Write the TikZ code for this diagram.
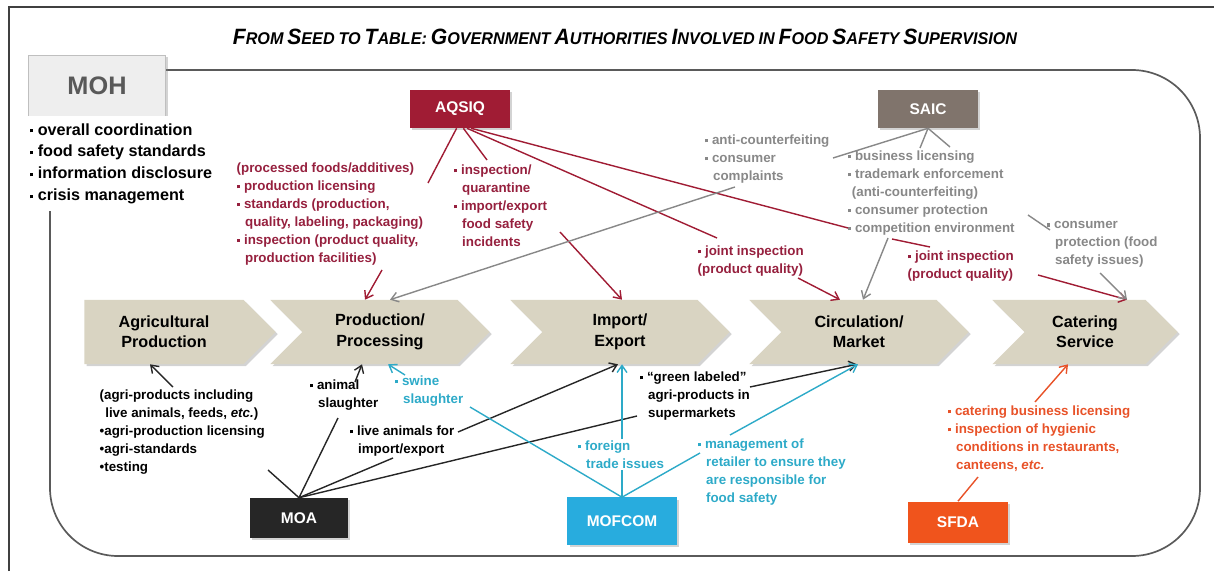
\documentclass[tikz,border=0pt]{standalone}
\usepackage{fontspec}
\setmainfont{Liberation Sans}
\usetikzlibrary{shapes.symbols,arrows.meta,shadows}

\definecolor{aqsiqred}{RGB}{160,28,52}
\definecolor{aqsiqtext}{RGB}{150,32,62}
\definecolor{saicbox}{RGB}{128,116,108}
\definecolor{saictext}{RGB}{136,136,136}
\definecolor{moabox}{RGB}{38,38,38}
\definecolor{mofbox}{RGB}{40,172,222}
\definecolor{moftext}{RGB}{45,170,200}
\definecolor{sfdabox}{RGB}{240,84,28}
\definecolor{sfdatext}{RGB}{232,82,40}
\definecolor{stagefill}{RGB}{217,212,194}
\definecolor{framegray}{RGB}{90,90,90}
\definecolor{mohfill}{RGB}{238,238,238}

\newcommand{\bul}{\raisebox{0.3ex}{\rule{2.6pt}{2.6pt}}\ }
\newcommand{\ind}{\hspace*{6pt}}
\newcommand{\tsc}[2]{{\fontsize{15}{15}\selectfont #1}{\fontsize{11.5}{15}\selectfont #2}}

\tikzset{
  softshadow/.style={drop shadow={opacity=0.35,shadow xshift=1.5pt,shadow yshift=-1.5pt}},
  agency/.style={minimum width=2.5cm, minimum height=0.95cm, text=white, font=\bfseries\fontsize{11}{13}\selectfont, softshadow},
  stage/.style={signal, signal to=east, signal from=west, signal pointer angle=90, fill=stagefill, minimum width=5.475cm, minimum height=1.6cm, align=center, font=\bfseries\fontsize{11.5}{14.5}\selectfont, softshadow},
  note/.style={anchor=north west, align=left, inner sep=1pt, font=\bfseries\fontsize{9.5}{12.8}\selectfont},
  link/.style={line width=1pt},
  feed/.style={link, -{Straight Barb[length=5pt,width=7pt]}}
}

\begin{document}
\begin{tikzpicture}[x=0.025cm, y=-0.025cm]
\useasboundingbox (0,0) rectangle (1214,571);
\draw[black!75, line width=0.8pt] (9,571) -- (9,7) -- (1214,7);
\draw[framegray, line width=1.2pt, rounded corners=1.7cm] (50,70) rectangle (1200,556);

\node (title) at (625,37) {\scalebox{1.0}[1.05]{\bfseries\itshape \tsc{F}{ROM} \tsc{S}{EED} \tsc{}{TO} \tsc{T}{ABLE:} \tsc{G}{OVERNMENT} \tsc{A}{UTHORITIES} \tsc{I}{NVOLVED} \tsc{}{IN} \tsc{F}{OOD} \tsc{S}{AFETY} \tsc{S}{UPERVISION}}};

\node (moh) [draw=black!25, fill=mohfill, minimum width=3.425cm, minimum height=1.55cm, text=black!65, font=\bfseries\fontsize{18}{20}\selectfont, softshadow] at (97,86) {MOH};
\node (mohtasks) [anchor=north west, align=left, fill=white, inner xsep=1pt, inner ysep=5pt, font=\bfseries\fontsize{11.5}{15.6}\selectfont] at (28,116) {\bul overall coordination\\ \bul food safety standards\\ \bul information disclosure\\ \bul crisis management};

\node (aqsiq) [agency, fill=aqsiqred] at (460,109) {AQSIQ};
\node (saic) [agency, fill=saicbox] at (928,109) {SAIC};
\node (moa) [agency, fill=moabox, minimum width=2.45cm, minimum height=1cm] at (299,518) {MOA};
\node (mofcom) [agency, fill=mofbox, minimum width=2.725cm, minimum height=1.175cm] at (622,521) {MOFCOM};
\node (sfda) [agency, fill=sfdabox, minimum height=1.025cm] at (958,522) {SFDA};

\node (agri) [stage, signal from=nowhere, minimum width=4.775cm] at (164,332) {Agricultural\\Production};
\node (proc) [stage] at (380,332) {Production/\\Processing};
\node (impex) [stage] at (620,332) {Import/\\Export};
\node (circ) [stage] at (859,332) {Circulation/\\Market};
\node (cater) [stage, minimum width=4.625cm] at (1085,332) {Catering\\Service};

\node (aqsiqproc) [note, text=aqsiqtext] at (235,161) {(processed foods/additives)\\ \bul production licensing\\ \bul standards (production,\\ \ind quality, labeling, packaging)\\ \bul inspection (product quality,\\ \ind production facilities)};
\node (aqsiqimport) [note, text=aqsiqtext] at (452,163) {\bul inspection/\\ \ind quarantine\\ \bul import/export\\ \ind food safety\\ \ind incidents};
\node (aqsiqjoint) [note, text=aqsiqtext] at (696,244) {\bul joint inspection\\ (product quality)};
\node (aqsiqcater) [note, text=aqsiqtext] at (906,249) {\bul joint inspection\\ (product quality)};

\node (saicanti) [note, text=saictext] at (703,133) {\bul anti-counterfeiting\\ \bul consumer\\ \ind complaints};
\node (saicmain) [note, text=saictext] at (846,149) {\bul business licensing\\ \bul trademark enforcement\\ \hspace*{3pt}(anti-counterfeiting)\\ \bul consumer protection\\ \bul competition environment};
\node (saiccons) [note, text=saictext] at (1045,220) {\bul consumer\\ \ind protection (food\\ \ind safety issues)};

\node (moaagri) [note] at (98,388) {(agri-products including\\ \hspace*{4pt}live animals, feeds, \textit{etc.})\\ \textbullet agri-production licensing\\ \textbullet agri-standards\\ \textbullet testing};
\node (moaslaughter) [note] at (308,378) {\bul animal\\ \ind slaughter};
\node (moalive) [note] at (348,424) {\bul live animals for\\ \ind import/export};
\node (moagreen) [note] at (638,370) {\bul“green labeled”\\ \ind agri-products in\\ \ind supermarkets};

\node (mofswine) [note, text=moftext] at (393,374) {\bul swine\\ \ind slaughter};
\node (moftrade) [note, text=moftext] at (576,439) {\bul foreign\\ \ind trade issues};
\node (mofretail) [note, text=moftext] at (696,437) {\bul management of\\ \ind retailer to ensure they\\ \ind are responsible for\\ \ind food safety};

\node (sfdacater) [note, text=sfdatext] at (946,404) {\bul catering business licensing\\ \bul inspection of hygienic\\ \ind conditions in restaurants,\\ \ind canteens, \textit{etc.}};

\draw[link, aqsiqred] (aqsiq.-100) -- ([shift={(193,22)}]aqsiqproc.north west);
\draw[feed, aqsiqred] ([shift={(147,109)}]aqsiqproc.north west) -- ([shift={(-15,0)}]proc.north);
\draw[link, aqsiqred] (aqsiq.-80) -- ([shift={(35,-3)}]aqsiqimport.north west);
\draw[feed, aqsiqred] ([shift={(108,69)}]aqsiqimport.north west) -- ([shift={(2,0)}]impex.north);
\draw[link, aqsiqred] (aqsiq.-70) -- ([shift={(21,-6)}]aqsiqjoint.north west);
\draw[feed, aqsiqred] ([shift={(102,34)}]aqsiqjoint.north west) -- ([shift={(-19,0)}]circ.north);
\draw[link, aqsiqred] (aqsiq.-60) -- ([shift={(2,79)}]saicmain.north west);
\draw[link, aqsiqred] ([shift={(46,90)}]saicmain.north west) -- ([shift={(24,-2)}]aqsiqcater.north west);
\draw[feed, aqsiqred] ([shift={(132,26)}]aqsiqcater.north west) -- ([shift={(42,0)}]cater.north);

\draw[link, saictext] (saic.south) -- ([shift={(130,25)}]saicanti.north west);
\draw[feed, saictext] ([shift={(32,54)}]saicanti.north west) -- ([shift={(10,0)}]proc.north);
\draw[link, saictext] (saic.south) -- ([shift={(74,-1)}]saicmain.north west);
\draw[link, saictext] (saic.south) -- ([shift={(104,-2)}]saicmain.north west);
\draw[feed, saictext] ([shift={(42,89)}]saicmain.north west) -- ([shift={(4,0)}]circ.north);
\draw[link, saictext] ([shift={(182,66)}]saicmain.north west) -- ([shift={(5,10)}]saiccons.north west);
\draw[feed, saictext] ([shift={(55,53)}]saiccons.north west) -- ([shift={(42,0)}]cater.north);

\draw[link, moabox] (moa.north) -- ([shift={(170,82)}]moaagri.north west);
\draw[feed, moabox] ([shift={(75,-1)}]moaagri.north west) -- ([shift={(-14,0)}]agri.south);
\draw[link, moabox] (moa.north) -- ([shift={(30,40)}]moaslaughter.north west);
\draw[feed, moabox] ([shift={(47,4)}]moaslaughter.north west) -- ([shift={(-18,0)}]proc.south);
\draw[link, moabox] (moa.north) -- ([shift={(45,34)}]moalive.north west);
\draw[feed, moabox] ([shift={(110,8)}]moalive.north west) -- ([shift={(-2,0)}]impex.south);
\draw[link, moabox] (moa.north) -- ([shift={(-1,46)}]moagreen.north west);
\draw[feed, moabox] ([shift={(112,17)}]moagreen.north west) -- ([shift={(-2,0)}]circ.south);

\draw[link, moftext] (mofcom.north) -- (moftrade.south -| mofcom.north);
\draw[feed, moftext] (moftrade.north -| mofcom.north) -- (impex.south -| mofcom.north);
\draw[link, moftext] (mofcom.north) -- ([shift={(77,33)}]mofswine.north west);
\draw[feed, moftext] ([shift={(12,1)}]mofswine.north west) -- ([shift={(8,0)}]proc.south);
\draw[link, moftext] (mofcom.north) -- ([shift={(4,16)}]mofretail.north west);
\draw[feed, moftext] ([shift={(34,-2)}]mofretail.north west) -- ([shift={(-1,0)}]circ.south);

\draw[link, sfdatext] (sfda.north) -- ([shift={(32,73)}]sfdacater.north west);
\draw[feed, sfdatext] ([shift={(89,-2)}]sfdacater.north west) -- ([shift={(-17,0)}]cater.south);
\end{tikzpicture}
\end{document}
